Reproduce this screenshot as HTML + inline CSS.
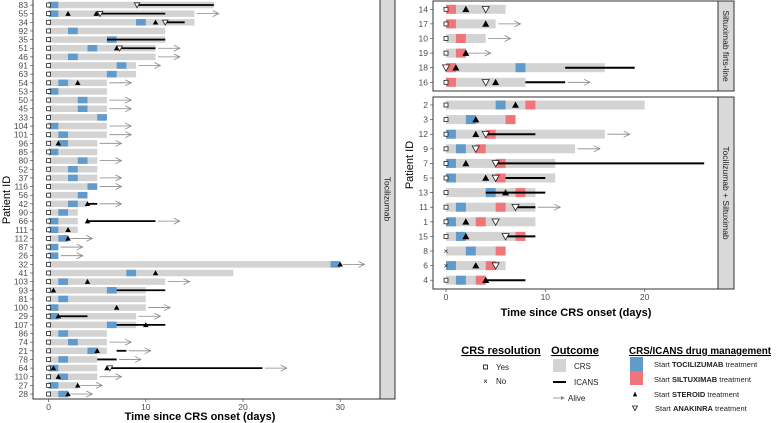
<!DOCTYPE html>
<html><head><meta charset="utf-8"><style>
body{margin:0;background:#fff;}
svg{display:block;font-family:"Liberation Sans",sans-serif;}
</style></head><body>
<svg id="chart" width="778" height="423" viewBox="0 0 778 423">
<g id="content"></g>
<g>
<text x="501" y="354" font-size="11" font-weight="bold" text-anchor="middle" text-decoration="underline">CRS resolution</text>
<rect x="483.5" y="365" width="4" height="4" fill="#fff" stroke="#222" stroke-width="0.9"/>
<text x="496" y="370" font-size="8" fill="#222">Yes</text>
<text x="485.5" y="384" font-size="8" text-anchor="middle" fill="#222">×</text>
<text x="496" y="384" font-size="8" fill="#222">No</text>
<text x="575" y="354" font-size="11" font-weight="bold" text-anchor="middle" text-decoration="underline">Outcome</text>
<rect x="553" y="359" width="13" height="13" fill="#d3d3d3"/>
<text x="574" y="369" font-size="8" fill="#222">CRS</text>
<line x1="553" y1="382" x2="566" y2="382" stroke="#000" stroke-width="2"/>
<text x="574" y="385" font-size="8" fill="#222">ICANS</text>
<line x1="553" y1="398" x2="564" y2="398" stroke="#888" stroke-width="0.8"/>
<path d="M561,396 L565,398 L561,400 Z" fill="#888"/>
<text x="568" y="401" font-size="8" fill="#222">Alive</text>
<text x="700" y="354" font-size="10.5" font-weight="bold" text-anchor="middle" text-decoration="underline" textLength="142" lengthAdjust="spacingAndGlyphs">CRS/ICANS drug management</text>
<rect x="630" y="357" width="13" height="14" fill="#619bcb"/>
<text x="654" y="367" font-size="7.5" fill="#222">Start <tspan font-weight="bold">TOCILIZUMAB</tspan> treatment</text>
<rect x="630" y="371" width="13" height="14" fill="#f0757a"/>
<text x="654" y="382" font-size="7.5" fill="#222">Start <tspan font-weight="bold">SILTUXIMAB</tspan> treatment</text>
<path d="M633.5,396 L636.5,396 L635,392.5 Z" fill="#000" stroke="#000" stroke-width="0.8"/>
<text x="654" y="397" font-size="7.5" fill="#222">Start <tspan font-weight="bold">STEROID</tspan> treatment</text>
<path d="M632.5,406 L637.5,406 L635,410.5 Z" fill="#fff" stroke="#222" stroke-width="0.8"/>
<text x="655" y="411" font-size="7.5" fill="#222">Start <tspan font-weight="bold">ANAKINRA</tspan> treatment</text>
</g>
</svg>
<script>
// ---- Left panel (Tocilizumab) data ----
const leftIds = ["83","55","34","92","35","51","46","91","63","54","53","50","45","33","104","101","96","85","80","52","37","116","56","42","90","66","111","112","87","26","32","41","103","93","81","100","29","107","86","74","21","78","64","110","27","28"];
const leftCrsEnd = [17,15,15,12,12,11,11,9,9,6,6,6,6,6,6,6,5,5,5,5,5,5,4,4,3,3,3,2,1,1,30,19,12,10,10,10,9,9,6,6,6,5,5,5,3,2];
const leftToci = [0,0,9,2,6,4,2,7,6,1,0,3,3,5,0,1,1,0,3,2,2,4,3,2,1,0,0,1,0,0,29,8,1,6,1,0,0,6,1,2,4,1,0,1,0,1];
const leftSteroid = [[],[2,4.9],[11],[],[],[7],[],[],[],[3],[],[],[],[],[],[],[1],[],[],[],[],[],[],[4],[],[4],[2],[2],[],[],[30],[11],[4],[0.5],[],[7],[1],[10],[],[],[5],[],[0.5,6],[1],[3],[2]];
const leftAnakinra = [[9.1],[5.3],[12],[],[],[7.3],[],[],[],[],[],[],[],[],[],[],[],[],[],[],[],[],[],[],[],[],[],[],[],[],[],[],[],[],[],[],[],[],[],[],[],[],[6.3],[],[],[]];
const leftIcans = [[9,17],[5,12],[12,14],null,[6,12],[7,11],null,null,null,null,null,null,null,null,null,null,null,null,null,null,null,null,null,[4,5],null,[4,11],null,null,null,null,null,null,null,[7,12],null,null,[1,4],[7,12],null,null,[7,8],[5,7],[6,22],null,null,null];
const leftAlive = [0,1,0,0,0,1,1,1,0,1,0,1,1,0,1,1,1,0,1,0,1,1,0,1,0,1,0,1,1,1,1,0,1,0,0,1,1,0,0,1,1,1,1,1,1,1];
const leftResolved = leftIds.map(()=>1);
const leftTicks = [0,10,20,30];

// ---- Right top (Siltuximab first-line) ----
const topIds = ["14","17","10","19","18","16"];
const topCrsEnd = [6,5,4,2,16,8];
const topSilt = [0,0,1,1,0,0];
const topToci = [null,null,null,null,7,null];
const topSteroid = [[2],[4],[],[2],[1],[5]];
const topAnakinra = [[4],[],[],[],[0],[4]];
const topIcans = [null,null,null,null,[12,19],[8,12]];
const topAlive = [0,1,1,1,0,1];
const topResolved = [1,1,1,1,1,1];

// ---- Right bottom (Tocilizumab + Siltuximab) ----
const botIds = ["2","3","12","9","7","5","13","11","1","15","8","6","4"];
const botCrsEnd = [20,7,16,13,11,11,9,9,9,8,6,6,4];
const botToci = [5,2,0,1,0,0,4,1,0,1,2,0,1];
const botSilt = [8,6,4,3,5,5,7,5,3,7,5,4,3];
const botSteroid = [[7],[3],[3],[],[2],[4],[6],[],[2],[2],[],[3],[4]];
const botAnakinra = [[],[],[4],[3],[5],[5],[],[7],[5],[6],[],[5],[]];
const botIcans = [null,null,[4,9],null,[5,26],[6,10],[4,10],[7,9],null,[6,9],null,null,[4,8]];
const botAlive = [0,0,1,1,0,0,0,1,0,0,0,0,0];
const botResolved = [1,1,1,1,1,1,1,1,1,1,0,0,1];
const rightTicks = [0,10,20];

const NS="http://www.w3.org/2000/svg";
const root=document.getElementById('content');
function mk(tag,attrs,parent){const e=document.createElementNS(NS,tag);for(const k in attrs)e.setAttribute(k,attrs[k]);(parent||root).appendChild(e);return e;}
const BLUE="#619bcb",RED="#f07578",GRAY="#d3d3d3";

function drawPanel(p){
  const g=mk('g',{});
  
  
  const x=d=>p.x0+d*p.k;
  const y=i=>p.y0+i*p.dy;
  const h=p.bh;
  mk('rect',{x:p.L,y:p.T,width:p.R-p.L,height:p.B-p.T,fill:"#fff"},g);
  p.ids.forEach((id,i)=>{
    const cy=y(i);
    const row=mk('g',{},g);
    
    
    const bar=mk('rect',{x:x(0),y:cy-h/2,width:x(p.crs[i])-x(0),height:h,fill:GRAY},row);
    
    
    if(p.toci && p.toci[i]!=null){
      const t=mk('rect',{x:x(p.toci[i]),y:cy-h/2,width:p.k,height:h,fill:BLUE},row);
      
      
    }
    if(p.silt && p.silt[i]!=null){
      const s=mk('rect',{x:x(p.silt[i]),y:cy-h/2,width:p.k,height:h,fill:RED},row);
      
      
    }
    let maxEnd=p.crs[i];
    if(p.icans[i]){
      const ic=p.icans[i];
      const l=mk('line',{x1:x(ic[0]),x2:x(ic[1]),y1:cy,y2:cy,stroke:"#000","stroke-width":p.lw},row);
      
      
      maxEnd=Math.max(maxEnd,ic[1]);
    }
    if(p.alive[i]){
      const a0=x(maxEnd+0.25),a1=x(maxEnd+2.5);
      const ag=mk('g',{stroke:"#888","stroke-width":0.8,fill:"none"},row);
      
      
      mk('line',{x1:a0,x2:a1,y1:cy,y2:cy},ag);
      mk('path',{d:`M${a1-6},${cy-3} L${a1},${cy} L${a1-6},${cy+3}`},ag);
    }
    const rx=x(0);
    if(p.res[i]){
      const hasAnakZero=p.anak[i].indexOf(0)>=0;
      if(!hasAnakZero){
        const m=mk('rect',{x:rx-2,y:cy-2,width:4,height:4,fill:"#fff",stroke:"#222","stroke-width":0.8},row);
        
        
      }
    } else {
      const m=mk('text',{x:rx,y:cy+3,"font-size":8,"text-anchor":"middle",fill:"#222"},row);
      m.textContent='×';
      
      
    }
    const ts=p.tri;
    p.ster[i].forEach(d=>{
      const cx=x(d);
      const m=mk('path',{d:`M${cx-ts/2},${cy+ts*0.4} L${cx+ts/2},${cy+ts*0.4} L${cx},${cy-ts*0.5} Z`,fill:"#000"},row);
      
      
    });
    p.anak[i].forEach(d=>{
      const cx=x(d);
      const m=mk('path',{d:`M${cx-ts/2},${cy-ts*0.4} L${cx+ts/2},${cy-ts*0.4} L${cx},${cy+ts*0.5} Z`,fill:"#fff",stroke:"#222","stroke-width":0.8},row);
      
      
    });
    const tl=mk('text',{x:p.L-5,y:cy+3,"font-size":8.5,"text-anchor":"end",fill:"#4d4d4d"},g);
    tl.textContent=id;
    
    
    mk('line',{x1:p.L-3,x2:p.L,y1:cy,y2:cy,stroke:"#333","stroke-width":0.6},g);
  });
  mk('rect',{x:p.L,y:p.T,width:p.R-p.L,height:p.B-p.T,fill:"none",stroke:"#333","stroke-width":1},g);
  const st=mk('rect',{x:p.R,y:p.T,width:p.SW,height:p.B-p.T,fill:"#d9d9d9",stroke:"#333","stroke-width":1},g);
  
  
  const sx=p.R+p.SW/2,sy=(p.T+p.B)/2;
  const stt=mk('text',{x:0,y:3,"font-size":8.5,"text-anchor":"middle",fill:"#1a1a1a",transform:`translate(${sx} ${sy}) rotate(90)`},g);
  stt.textContent=p.strip;
  
  
  if(p.ticks){
    p.ticks.forEach(t=>{
      mk('line',{x1:x(t),x2:x(t),y1:p.B,y2:p.B+3,stroke:"#333","stroke-width":0.6},g);
      const tx=mk('text',{x:x(t),y:p.B+11,"font-size":8.5,"text-anchor":"middle",fill:"#4d4d4d"},g);
      tx.textContent=t;
      
      
    });
  }
}

drawPanel({name:"tocilizumab-panel",ids:leftIds,crs:leftCrsEnd,toci:leftToci,silt:null,ster:leftSteroid,anak:leftAnakinra,icans:leftIcans,alive:leftAlive,res:leftResolved,
  x0:48.6,k:9.72,y0:5,dy:8.645,bh:6.5,lw:1.8,tri:5.5,L:33,R:380,T:-1,B:399,SW:15,strip:"Tocilizumab",ticks:leftTicks});
drawPanel({name:"siltuximab-first-line-panel",ids:topIds,crs:topCrsEnd,toci:topToci,silt:topSilt,ster:topSteroid,anak:topAnakinra,icans:topIcans,alive:topAlive,res:topResolved,
  x0:446,k:9.93,y0:9.3,dy:14.6,bh:9,lw:2,tri:7,L:433,R:718,T:1,B:91,SW:16,strip:"Siltuximab firts-line",ticks:null});
drawPanel({name:"tocilizumab-siltuximab-panel",ids:botIds,crs:botCrsEnd,toci:botToci,silt:botSilt,ster:botSteroid,anak:botAnakinra,icans:botIcans,alive:botAlive,res:botResolved,
  x0:446,k:9.93,y0:105,dy:14.6,bh:9,lw:2,tri:7,L:433,R:718,T:97,B:289,SW:16,strip:"Tocilizumab + Siltuximab",ticks:rightTicks});

const t1=mk('text',{x:200,y:420,"font-size":11,"font-weight":"bold","text-anchor":"middle"});
t1.textContent="Time since CRS onset (days)";


const t2=mk('text',{x:576,y:316,"font-size":11,"font-weight":"bold","text-anchor":"middle"});
t2.textContent="Time since CRS onset (days)";


const y1=mk('text',{x:10,y:200,"font-size":11,"text-anchor":"middle",transform:"rotate(-90 10 200)"});
y1.textContent="Patient ID";


const y2=mk('text',{x:413,y:165,"font-size":11,"text-anchor":"middle",transform:"rotate(-90 413 165)"});
y2.textContent="Patient ID";


</script>
</body></html>
